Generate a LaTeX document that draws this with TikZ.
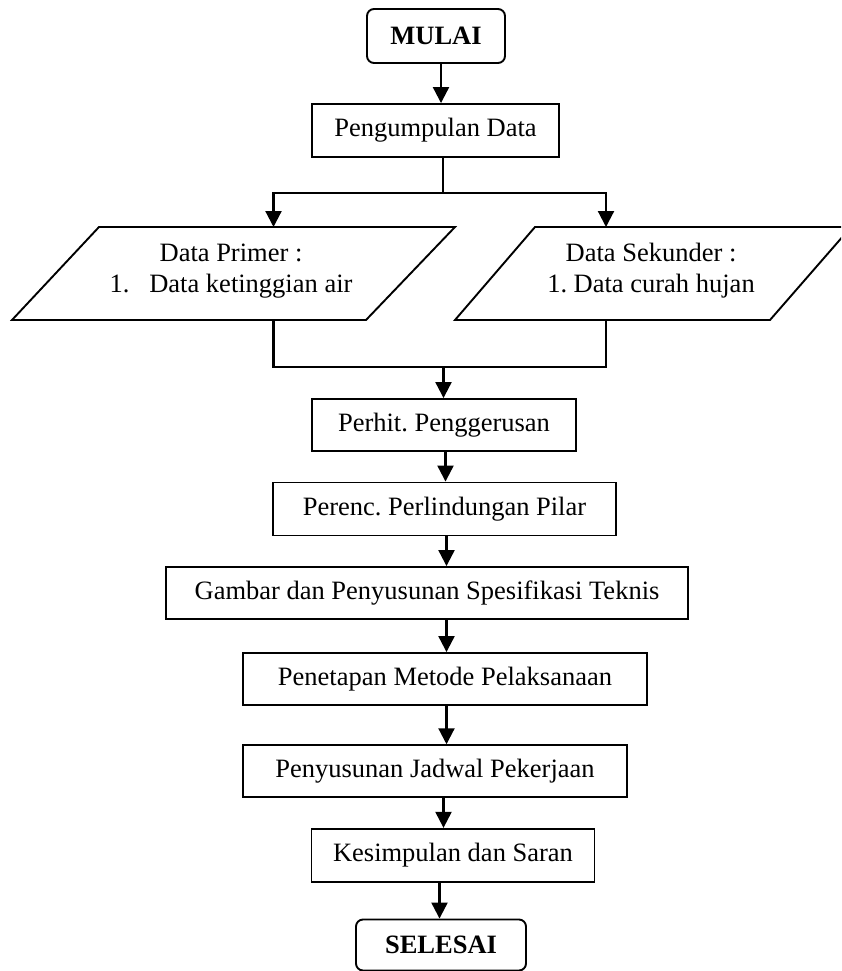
\documentclass[tikz,border=0pt]{standalone}
\usepackage{fontspec}
\setmainfont{Liberation Serif}
\usetikzlibrary{arrows.meta}
\frenchspacing
\begin{document}
\begin{tikzpicture}[x=1pt,y=-1pt,
  box/.style={draw, line width=1.9pt, inner sep=0pt, align=center,
              font=\fontsize{26.5}{31}\selectfont},
  term/.style={box, rounded corners=7pt, font=\fontsize{26.5}{31}\selectfont\bfseries},
  txt/.style={inner sep=0pt, align=center, font=\fontsize{26.5}{31}\selectfont},
  para/.style={line width=1.9pt, line join=miter},
  arr/.style={line width=2.2pt, -{Triangle[length=16pt,width=16pt]}},
  ln/.style={line width=2.2pt}]
\useasboundingbox (0,0) rectangle (841,971);
\clip (0,0) rectangle (841,971);
\fill[white] (0,0) rectangle (841,971);

% axes for the vertical connectors
\coordinate (axA) at (441,0);
\coordinate (axB) at (443.5,0);
\coordinate (axC) at (445.5,0);
\coordinate (axD) at (446.5,0);
\coordinate (axE) at (439.5,0);

% terminals and process boxes
\node[term, minimum width=138pt, minimum height=54pt] (mulai) at (436,36) {MULAI};
\node[box, minimum width=247pt, minimum height=53pt] (peng) at (435.5,130.5) {Pengumpulan Data};
\node[box, minimum width=264pt, minimum height=52pt] (perhit) at (444,425) {Perhit. Penggerusan};
\node[box, minimum width=343pt, minimum height=53pt] (perenc) at (444.5,509) {Perenc. Perlindungan Pilar};
\node[box, minimum width=522pt, minimum height=52pt] (gambar) at (427,593) {Gambar dan Penyusunan Spesifikasi Teknis};
\node[box, minimum width=404pt, minimum height=52pt] (penet) at (445,679) {Penetapan Metode Pelaksanaan};
\node[box, minimum width=384pt, minimum height=52pt] (penyus) at (435,771.2) {Penyusunan Jadwal Pekerjaan};
\node[box, minimum width=283pt, minimum height=53pt] (kesim) at (453,855.3) {Kesimpulan dan Saran};
\node[term, minimum width=170pt, minimum height=51pt] (selesai) at (441,945) {SELESAI};

% data (input) parallelograms
\draw[para] (12,320) -- (99,227) -- (455,227) -- (366,320) -- cycle;
\draw[para] (455,320) -- (535,227) -- (851,227) -- (770,320) -- cycle;
\node[txt] (primer) at (231,271) {Data Primer :\\1.\hspace{0.75em}Data ketinggian air};
\node[txt] (sekunder) at (651,271) {Data Sekunder :\\1. Data curah hujan};

\coordinate (split) at (443,193);
\coordinate (pLt) at (273.5,227);
\coordinate (pRt) at (606,227);
\coordinate (pLb) at (273.5,320);
\coordinate (pRb) at (606,320);
\coordinate (join) at (443.5,367);

% connectors
\draw[arr] (mulai.south -| axA) -- (peng.north -| axA);
\draw[ln] (peng.south -| split) -- (split);
\draw[arr] (split) -| (pLt);
\draw[arr] (split) -| (pRt);
\draw[ln] (pLb) |- (join) -| (pRb);
\draw[arr] (join) -- (perhit.north -| join);
\draw[arr] (perhit.south -| axC) -- (perenc.north -| axC);
\draw[arr] (perenc.south -| axD) -- (gambar.north -| axD);
\draw[arr] (gambar.south -| axD) -- (penet.north -| axD);
\draw[arr] (penet.south -| axD) -- (penyus.north -| axD);
\draw[arr] (penyus.south -| axB) -- (kesim.north -| axB);
\draw[arr] (kesim.south -| axE) -- (selesai.north -| axE);
\end{tikzpicture}
\end{document}
